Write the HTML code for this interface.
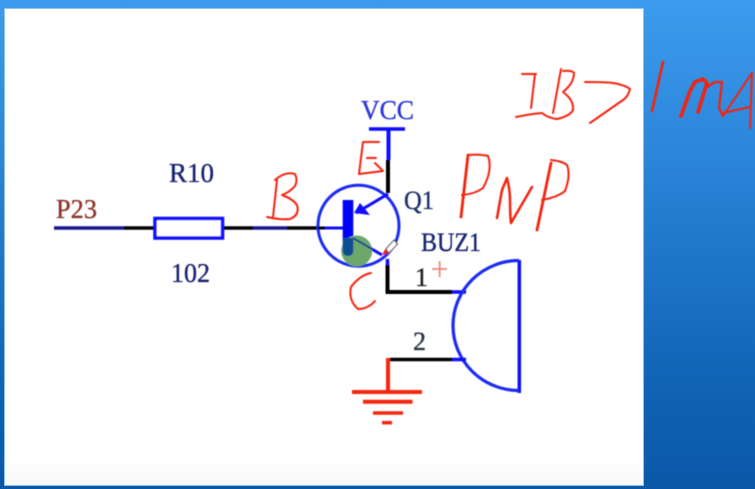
<!DOCTYPE html>
<html>
<head>
<meta charset="utf-8">
<style>
html,body{margin:0;padding:0;width:755px;height:489px;overflow:hidden;background:#1f74c6}
svg{display:block}
text{font-family:"Liberation Serif",serif;stroke-width:0.35px}
</style>
</head>
<body>
<svg width="755" height="489" viewBox="0 0 755 489" xmlns="http://www.w3.org/2000/svg">
<defs>
<linearGradient id="bg" x1="0" y1="0" x2="0" y2="1">
<stop offset="0" stop-color="#3c9bec"/>
<stop offset="0.25" stop-color="#2f8ade"/>
<stop offset="0.5" stop-color="#2178cb"/>
<stop offset="0.8" stop-color="#0f62b4"/>
<stop offset="1" stop-color="#0a58a8"/>
</linearGradient>
<linearGradient id="pg" x1="0" y1="0" x2="0" y2="1">
<stop offset="0" stop-color="#ffffff"/>
<stop offset="0.94" stop-color="#ffffff"/>
<stop offset="1" stop-color="#f8f8f8"/>
</linearGradient>
<filter id="soft" x="-5%" y="-5%" width="110%" height="110%"><feGaussianBlur stdDeviation="0.45"/></filter>
</defs>
<rect width="755" height="489" fill="url(#bg)"/>
<rect x="4.500" y="8.500" width="639" height="477" fill="url(#pg)" stroke="#8fc3ef" stroke-width="1"/>

<g filter="url(#soft)" fill="none" stroke-linecap="butt">
  <!-- input line -->
  <path d="M54 228H124" stroke="#14148c" stroke-width="3.500"/>
  <path d="M124 228H154" stroke="#000" stroke-width="3.500"/>
  <rect x="155" y="218.500" width="67.500" height="19.500" stroke="#0a0aff" stroke-width="3.500" fill="#fff"/>
  <path d="M224 228H253" stroke="#000" stroke-width="3.500"/>
  <path d="M253 228H287" stroke="#14148c" stroke-width="3.500"/>
  <path d="M287 228H318" stroke="#000" stroke-width="3.500"/>

  <!-- transistor -->
  <circle cx="358.500" cy="225.700" r="40.500" stroke="#1a2cf0" stroke-width="3"/>
  <path d="M318 228H325" stroke="#000" stroke-width="3"/>
  <path d="M325 228H343" stroke="#0a0aff" stroke-width="3"/>
  <rect x="342.700" y="200" width="10.600" height="40" fill="#0404ff"/>
  <path d="M388 194L356 213" stroke="#0a0aff" stroke-width="3"/>
  <polygon points="354,213 360,203 370,215" fill="#0a0aff"/>
  <path d="M353 238L382 255" stroke="#0a0aff" stroke-width="3"/>
  <circle cx="356.700" cy="251" r="15.500" fill="#6da76c"/>
  <path d="M342.700 238H353.300V250Q353.300 256 348 256Q342.700 256 342.700 250Z" fill="#0c4d92"/>
  <path d="M353 238L372 249" stroke="#0c4d92" stroke-width="2"/>

  <!-- VCC -->
  <path d="M369 129H405" stroke="#0a0aff" stroke-width="3.500"/>
  <path d="M388.500 129V160" stroke="#0a0aff" stroke-width="4"/>
  <path d="M388 160V193" stroke="#000" stroke-width="4"/>

  <!-- collector to buzzer -->
  <path d="M387.500 259V265" stroke="#0a0aff" stroke-width="3.500"/>
  <path d="M387.500 265V292H452" stroke="#000" stroke-width="4"/>
  <path d="M452 292H466" stroke="#0a0aff" stroke-width="3.500"/>
  <!-- buzzer -->
  <path d="M519.300 260V393" stroke="#0a0aff" stroke-width="3.500"/>
  <path d="M519 260.500A66 65 0 0 0 519 390.500" stroke="#1a2cf0" stroke-width="3.200"/>
  <!-- pin 2 -->
  <path d="M390 359.500H452" stroke="#000" stroke-width="3.500"/>
  <path d="M452 359.500H466" stroke="#0a0aff" stroke-width="3.500"/>
  <!-- ground -->
  <g stroke="#f4260c">
    <path d="M388 358V392" stroke-width="4"/>
    <path d="M352 392H422" stroke-width="4"/>
    <path d="M363 401.700H412.500" stroke-width="4"/>
    <path d="M373 413H403" stroke-width="3.500"/>
    <path d="M382 422.700H392" stroke-width="3.500"/>
  </g>

  <!-- labels -->
  <text x="56" y="218" font-size="27" fill="#8a3428" stroke="#8a3428" textLength="41" lengthAdjust="spacingAndGlyphs">P23</text>
  <text x="169" y="182" font-size="27" fill="#16226f" stroke="#16226f" textLength="45" lengthAdjust="spacingAndGlyphs">R10</text>
  <text x="171" y="282" font-size="27" fill="#16226f" stroke="#16226f" textLength="39" lengthAdjust="spacingAndGlyphs">102</text>
  <text x="361" y="119" font-size="27" fill="#2a34d8" stroke="#2a34d8" textLength="53" lengthAdjust="spacingAndGlyphs">VCC</text>
  <text x="404" y="209" font-size="26" fill="#1c2f68" stroke="#1c2f68" textLength="30" lengthAdjust="spacingAndGlyphs">Q1</text>
  <text x="421" y="251" font-size="26" fill="#16226f" stroke="#16226f" textLength="60" lengthAdjust="spacingAndGlyphs">BUZ1</text>
  <text x="415" y="286" font-size="26" fill="#1e1e1e" stroke="#1e1e1e">1</text>
  <text x="413" y="350" font-size="26" fill="#25303f" stroke="#25303f">2</text>
  <path d="M432 269H447M439.700 261V277" stroke="#e88a7a" stroke-width="1.800"/>

  <!-- pen cursor -->
  <path d="M386 249L394 240L397.500 244L389 253Z" fill="#fff" stroke="#444" stroke-width="1"/>
  <path d="M382 255L385.500 248.500L389.500 253Z" fill="#e8201a"/>

  <!-- handwriting -->
  <g stroke="#f4200a" stroke-width="2" stroke-linecap="round" stroke-linejoin="round">
    <!-- E -->
    <path d="M379 142L363 142L359 174L383 171L375 163M367 158H376"/>
    <!-- B -->
    <path d="M277 180L273 217M275 180Q285 171 295 174Q298 180 295 186Q290 192 282 195Q293 199 297 205Q300 215 290 219Q280 220 267 217"/>
    <!-- C -->
    <path d="M371 273Q360 275 351 287Q348 300 358 309Q368 309 375 301"/>
    <!-- PNP -->
    <path d="M468 155L461 217" stroke-width="2.800"/>
    <path d="M468 155Q480 154 488 156Q493 170 483 188Q475 194 462 195"/>
    <path d="M497 218L502 190L507 178Q510 190 510 200Q510 215 511 223L532 187" stroke-width="2.500"/>
    <path d="M551 163L537 230" stroke-width="2.800"/>
    <path d="M551 160Q562 161 567 165Q571 175 565 191Q558 197 542 200"/>
    <!-- IB> -->
    <path d="M522 74H536M535 74L531 108M516 117Q530 114 542 113Q548 118 557 119"/>
    <path d="M561 69L553 113M563 71Q572 70 574 73Q574 83 563 92Q574 100 573 110Q570 116 557 119"/>
    <path d="M585 82Q605 82 613 83Q625 85 630 89Q628 97 623 100L590 123"/>
    <!-- 1 mA -->
    <path d="M663 62L652 111" stroke-width="2.600"/>
    <path d="M681 116L690 91L695 82L703 79L707 83L698 112" stroke-width="3.600"/>
    <path d="M707 87L715 82L722 82L719 108L723 116" stroke-width="2.300"/>
    <path d="M723 116L752 73L750 128M723 113L750 107" stroke-width="2"/>
  </g>
</g>
</svg>
</body>
</html>
